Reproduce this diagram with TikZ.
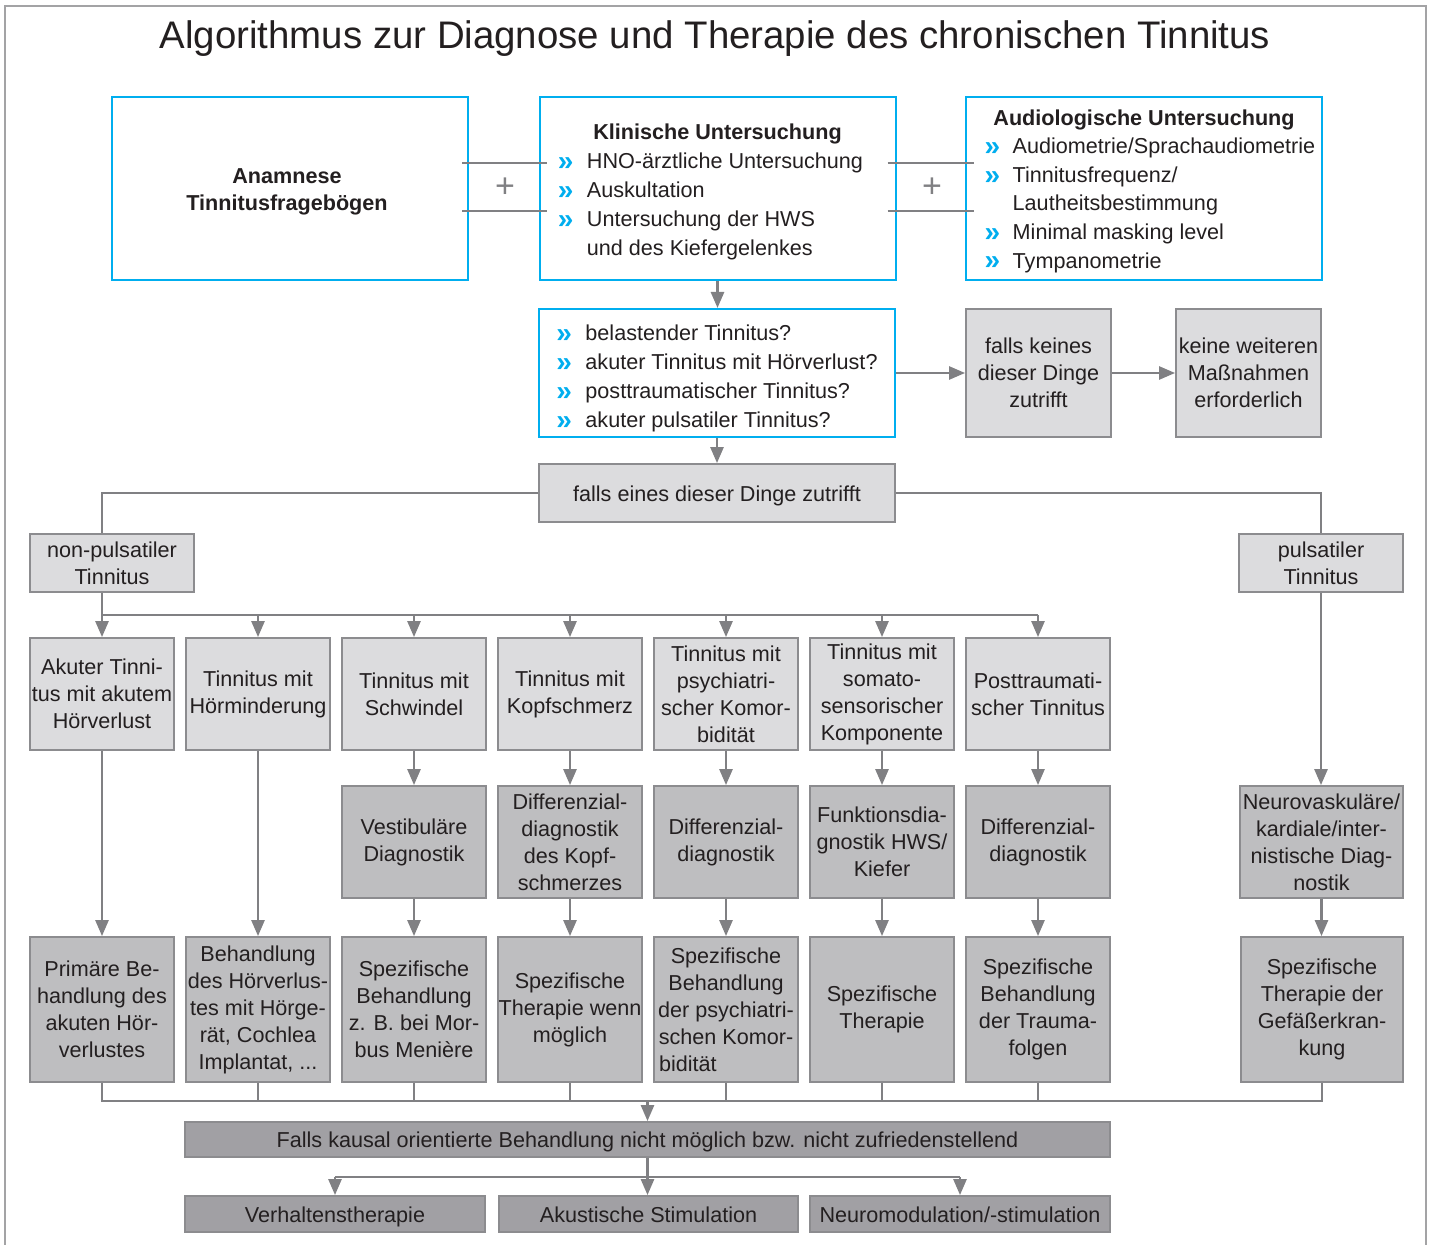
\documentclass[tikz,border=0pt]{standalone}
\usepackage{fontspec}
\setmainfont{Liberation Sans}
\usetikzlibrary{arrows.meta}
\definecolor{ink}{RGB}{35,31,32}
\definecolor{cyanline}{RGB}{0,174,239}
\definecolor{cLight}{RGB}{220,220,222}
\definecolor{cMid}{RGB}{190,190,192}
\definecolor{cDark}{RGB}{161,160,164}
\definecolor{wirecol}{RGB}{128,128,131}
\definecolor{rim}{RGB}{140,140,143}
\newcommand{\bul}{\raisebox{-0.9pt}{\textcolor{cyanline}{\fontsize{14}{14}\selectfont\bfseries »}}}
\tikzset{
  wire/.style={draw=wirecol, line width=1.3pt},
  arr/.style={wire, -{Triangle[length=8pt,width=6.5pt]}},
  bluebox/.style={draw=cyanline, line width=1pt, fill=white, inner sep=0pt,
    minimum width=178pt, minimum height=91.5pt},
  lightbox/.style={draw=rim, line width=0.9pt, fill=cLight, align=center, inner sep=0pt,
    execute at begin node={\rule{0pt}{10.8pt}}},
  midbox/.style={lightbox, fill=cMid},
  darkbox/.style={lightbox, fill=cDark},
  oneline/.style={text depth=2.5pt},
  cell/.style={minimum width=72pt, minimum height=56pt},
  tallcell/.style={minimum width=72pt, minimum height=72.5pt},
  plus/.style={text=wirecol, font=\fontsize{17}{17}\selectfont},
}
\begin{document}
\begin{tikzpicture}[x=0.5pt,y=-0.5pt,
    every node/.style={font=\fontsize{10.8}{13.5}\selectfont, text=ink}]
  \useasboundingbox (0,0) rectangle (1431,1245);
  \draw[draw=rim!80, line width=1.2pt] (5,1245) |- (1426,6) -- (1426,1245);
  \node (title) at (715,39) {\fontsize{19.2}{20}\selectfont Algorithmus zur Diagnose und Therapie des chronischen Tinnitus};

  % examination boxes
  \node[bluebox, font=\fontsize{10.8}{13.5}\selectfont\bfseries] (anam) at (290,188.5) {%
    \raisebox{-1.5pt}[\height][\depth]{\begin{tabular}{@{}c@{\hspace{3pt}}}Anamnese\\Tinnitusfragebögen\end{tabular}}};
  \node[bluebox, font=\fontsize{10.8}{14.5}\selectfont] (klin) at (717.5,188.5) {%
    \raisebox{-1.5pt}[\height][\depth]{\begin{tabular}{@{}p{14.5pt}@{}l@{\hspace{7pt}}}
      \multicolumn{2}{c}{\textbf{Klinische Untersuchung}}\\
      \bul & HNO-ärztliche Untersuchung\\
      \bul & Auskultation\\
      \bul & Untersuchung der HWS\\
           & und des Kiefergelenkes
    \end{tabular}}};
  \node[bluebox, font=\fontsize{10.8}{14.3}\selectfont] (audio) at (1144,188.5) {%
    \raisebox{-1.2pt}[\height][\depth]{\begin{tabular}{@{\hspace{6pt}}p{14pt}@{}l@{}}
      \multicolumn{2}{c}{\textbf{Audiologische Untersuchung}}\\
      \bul & Audiometrie/Sprachaudiometrie\\
      \bul & Tinnitusfrequenz/\\
           & Lautheitsbestimmung\\
      \bul & Minimal masking level\\
      \bul & Tympanometrie
    \end{tabular}}};
  \draw[wire] ([shift={(-7,-25.5)}]anam.east) -- ([shift={(8,-25.5)}]klin.west);
  \draw[wire] ([shift={(-7,22.5)}]anam.east) -- ([shift={(8,22.5)}]klin.west);
  \draw[wire] ([shift={(-9,-25.5)}]klin.east) -- ([shift={(9,-25.5)}]audio.west);
  \draw[wire] ([shift={(-9,22.5)}]klin.east) -- ([shift={(9,22.5)}]audio.west);
  \node[plus] (plusL) at (505,188) {+};
  \node[plus] (plusR) at (932,188) {+};

  % questions
  \node[bluebox, minimum height=64pt, font=\fontsize{10.8}{14.5}\selectfont] (ask) at (717,373) {%
    \raisebox{-2.5pt}[\height][\depth]{\begin{tabular}{@{}p{14.5pt}@{}l@{}}
      \bul & belastender Tinnitus?\\
      \bul & akuter Tinnitus mit Hörverlust?\\
      \bul & posttraumatischer Tinnitus?\\
      \bul & akuter pulsatiler Tinnitus?
    \end{tabular}}};
  \node[lightbox, minimum width=72.5pt, minimum height=64pt] (none) at (1038.5,373) {falls keines\\dieser Dinge\\zutrifft};
  \node[lightbox, minimum width=72.5pt, minimum height=64pt] (nomore) at (1248.5,373) {keine weiteren\\Maßnahmen\\erforderlich};
  \node[lightbox, oneline, minimum width=178pt, minimum height=29pt] (one) at (717,493) {falls eines dieser Dinge zutrifft};
  \draw[arr] (klin.south) -- (klin.south |- ask.north);
  \draw[arr] (ask.east) -- (none.west);
  \draw[arr] (none.east) -- (nomore.west);
  \draw[arr] (ask.south) -- (ask.south |- one.north);

  % branches
  \node[lightbox, minimum width=82pt, minimum height=29pt] (nonpuls) at (112,563) {non-pulsatiler\\Tinnitus};
  \node[lightbox, minimum width=82pt, minimum height=29pt] (puls) at (1321,563) {pulsatiler\\Tinnitus};

  % first row
  \node[lightbox, cell] (c1) at (102,694) {Akuter Tinni-\\tus mit akutem\\Hörverlust};
  \node[lightbox, cell] (c2) at (258,694) {Tinnitus mit\\Hörminderung};
  \node[lightbox, cell] (c3) at (414,694) {Tinnitus mit\\Schwindel};
  \node[lightbox, cell] (c4) at (570,694) {Tinnitus mit\\Kopfschmerz};
  \node[lightbox, cell] (c5) at (726,694) {Tinnitus mit\\psychiatri-\\scher Komor-\\bidität};
  \node[lightbox, cell] (c6) at (882,694) {Tinnitus mit\\somato-\\sensorischer\\Komponente};
  \node[lightbox, cell] (c7) at (1038,694) {Posttraumati-\\scher Tinnitus};

  % second row
  \node[midbox, cell] (d3) at (414,842) {Vestibuläre\\Diagnostik};
  \node[midbox, cell] (d4) at (570,842) {Differenzial-\\diagnostik\\des Kopf-\\schmerzes};
  \node[midbox, cell] (d5) at (726,842) {Differenzial-\\diagnostik};
  \node[midbox, cell] (d6) at (882,842) {Funktionsdia-\\gnostik HWS/\\Kiefer};
  \node[midbox, cell] (d7) at (1038,842) {Differenzial-\\diagnostik};
  \node[midbox, cell, minimum width=81.5pt] (vasc) at (1321.5,842) {Neurovaskuläre/\\kardiale/inter-\\nistische Diag-\\nostik};

  % third row
  \node[midbox, tallcell] (t1) at (102,1009.5) {Primäre Be-\\handlung des\\akuten Hör-\\verlustes};
  \node[midbox, tallcell] (t2) at (258,1009.5) {Behandlung\\des Hörverlus-\\tes mit Hörge-\\rät, Cochlea\\Implantat, ...};
  \node[midbox, tallcell] (t3) at (414,1009.5) {Spezifische\\Behandlung\\z. B. bei Mor-\\bus Menière};
  \node[midbox, tallcell] (t4) at (570,1009.5) {Spezifische\\Therapie wenn\\möglich};
  \node[midbox, tallcell] (t5) at (726,1009.5) {Spezifische\\Behandlung\\der psychiatri-\\schen Komor-\\\makebox[67pt][l]{bidität}};
  \node[midbox, tallcell] (t6) at (882,1009.5) {Spezifische\\Therapie};
  \node[midbox, tallcell] (t7) at (1038,1009.5) {Spezifische\\Behandlung\\der Trauma-\\folgen};
  \node[midbox, tallcell, minimum width=81pt] (vtherapy) at (1322,1009.5) {Spezifische\\Therapie der\\Gefäßerkran-\\kung};

  % fallback
  \node[darkbox, oneline, minimum width=462.5pt, minimum height=17.5pt] (causal) at (647.5,1139.5) {Falls kausal orientierte Behandlung nicht möglich bzw. nicht zufriedenstellend};
  \node[darkbox, oneline, minimum width=150pt, minimum height=18pt] (behav) at (335,1214) {Verhaltenstherapie};
  \node[darkbox, oneline, minimum width=149.5pt, minimum height=18pt] (acoustic) at (648.5,1214) {Akustische Stimulation};
  \node[darkbox, oneline, minimum width=150pt, minimum height=18pt] (neuromod) at (960,1214) {Neuromodulation/-stimulation};

  % connectors
  \draw[wire] (one.west) -| (nonpuls.north -| c1.north);
  \draw[wire] (one.east) -| (puls.north);
  \coordinate (fork) at (102,615);
  \draw[wire] (nonpuls.south -| c1.north) -- (fork) -- (fork -| c7.north);
  \draw[arr] (fork) -- (c1.north);
  \draw[arr] (fork -| c2.north) -- (c2.north);
  \draw[arr] (fork -| c3.north) -- (c3.north);
  \draw[arr] (fork -| c4.north) -- (c4.north);
  \draw[arr] (fork -| c5.north) -- (c5.north);
  \draw[arr] (fork -| c6.north) -- (c6.north);
  \draw[arr] (fork -| c7.north) -- (c7.north);
  \draw[arr] (c1.south) -- (t1.north);
  \draw[arr] (c2.south) -- (t2.north);
  \draw[arr] (c3.south) -- (d3.north);
  \draw[arr] (c4.south) -- (d4.north);
  \draw[arr] (c5.south) -- (d5.north);
  \draw[arr] (c6.south) -- (d6.north);
  \draw[arr] (c7.south) -- (d7.north);
  \draw[arr] (d3.south) -- (t3.north);
  \draw[arr] (d4.south) -- (t4.north);
  \draw[arr] (d5.south) -- (t5.north);
  \draw[arr] (d6.south) -- (t6.north);
  \draw[arr] (d7.south) -- (t7.north);
  \draw[arr] (puls.south) -- (puls.south |- vasc.north);
  \draw[arr] (vasc.south) -- (vasc.south |- vtherapy.north);

  \coordinate (join) at (102,1101);
  \draw[wire] (t1.south) -- (join) -| (vtherapy.south);
  \draw[wire] (t2.south) -- (t2.south |- join);
  \draw[wire] (t3.south) -- (t3.south |- join);
  \draw[wire] (t4.south) -- (t4.south |- join);
  \draw[wire] (t5.south) -- (t5.south |- join);
  \draw[wire] (t6.south) -- (t6.south |- join);
  \draw[wire] (t7.south) -- (t7.south |- join);
  \draw[arr] (join -| causal.north) -- (causal.north);

  \coordinate (split) at (648,1177);
  \draw[wire] (split -| behav.north) -- (split -| neuromod.north);
  \draw[arr] (causal.south) -- (causal.south |- acoustic.north);
  \draw[arr] (split -| behav.north) -- (behav.north);
  \draw[arr] (split -| neuromod.north) -- (neuromod.north);
\end{tikzpicture}
\end{document}
